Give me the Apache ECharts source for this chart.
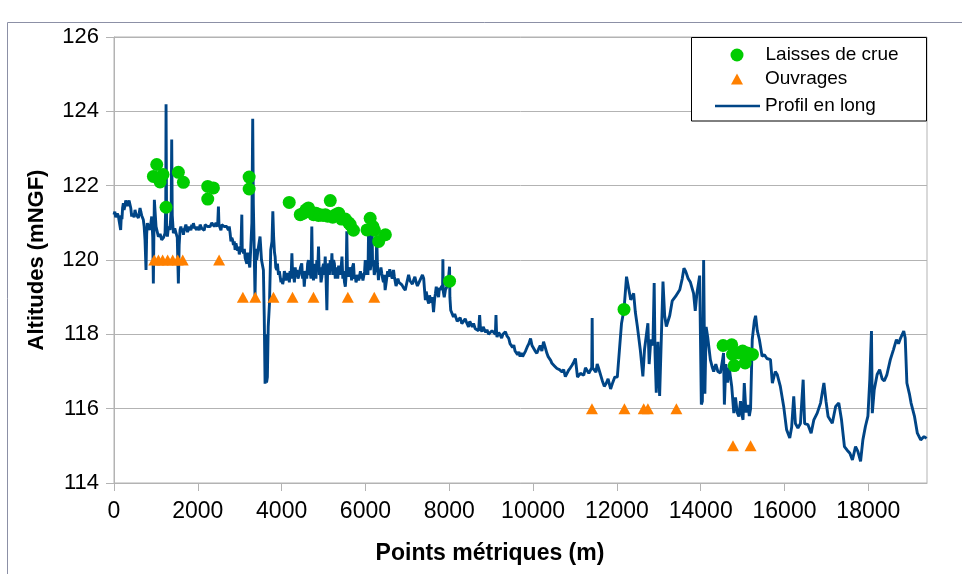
<!DOCTYPE html>
<html>
<head>
<meta charset="utf-8">
<script src="https://cdn.jsdelivr.net/npm/echarts@6/dist/echarts.min.js"></script>
<style>html,body{margin:0;padding:0;background:#fff}#c{width:962px;height:574px}</style>
</head>
<body>
<div id="c"></div>
<script>
// ---- data ----
const xTicks = [0, 2000, 4000, 6000, 8000, 10000, 12000, 14000, 16000, 18000];
const yTicks = [114, 116, 118, 120, 122, 124, 126];

const profileM = [0,20,40,60,80,103,130,159,175,190,205,223,240,260,280,302,320,340,360,382,400,422,440,460,480,501,520,540,560,581,600,621,640,660,680,700,720,740,764,780,796,830,860,900,925,939,950,963,1003,1059,1100,1138,1180,1218,1235,1242,1255,1274,1300,1337,1365,1377,1390,1417,1450,1481,1510,1536,1555,
1576,1596,1616,1636,1656,1676,1695,1715,1735,1755,1775,1795,1815,1835,1855,1875,1895,1915,1935,1955,1974,1994,2014,2034,2054,2074,2094,2114,2134,2154,2174,2194,2213,2233,2253,2273,2293,2313,2333,2353,2373,2393,2413,2433,2452,2472,2492,2505,2532,2552,2572,2592,2612,2632,2650,2670,2691,2710,2730,2750,2771,
2790,2810,2830,2850,2870,2890,2910,2930,2950,2970,2990,3010,3030,3050,3060,3090,3110,3130,3150,3170,3190,3210,3240,3265,3290,3310,3325,3340,3365,3385,3405,3440,3485,3520,3565,3585,3605,3620,3640,3660,3680,3710,3740,3770,3790,
3810,3830,3845,3860,3885,3900,3925,3945,3965,3985,4005,4025,4045,4065,4085,4105,4125,4145,4165,4185,4200,4225,4245,4265,4285,4305,4325,4345,4365,4390,4420,4450,4480,4500,4520,4540,4560,4580,4600,4620,4640,4660,4680,4700,4720,4735,4760,4780,4800,4820,4840,4860,4880,4900,4920,4940,4960,4980,5000,5020,5040,5060,5080,5095,5120,5140,5160,5180,5200,5220,5240,5260,5280,5300,5320,5340,5360,5380,5400,5420,5440,5460,5480,5500,5520,5540,5555,5570,5595,5620,5650,5670,5690,5715,5735,5755,5775,5795,5820,5840,5855,5880,5900,5915,5940,5960,5980,5995,6015,6040,6060,6075,6090,6115,6135,6155,6170,6190,6210,6235,6255,6270,6285,6310,6330,6350,6370,6390,6410,6430,6450,6470,6490,6510,6530,6550,6580,6610,6640,6670,6690,6710,6730,6750,6775,6800,6830,6870,6910,6950,6990,7030,7060,7090,7120,7150,7180,7210,7240,7270,7300,7330,7360,7390,7410,7430,7450,7470,7490,7510,7530,7550,7570,7590,7610,7625,7650,7670,7690,7720,7745,7765,7785,7820,7840,7848,7858,7880,7910,7945,7970,7990,8000,8007,8015,8035,
8100,8130,8160,8190,8220,8260,8300,8340,8380,8420,8460,8490,8520,8550,8580,8620,8660,8700,8725,8745,8780,8810,8840,8870,8900,8940,8980,9020,9060,9100,9115,9130,9140,9180,9217,9250,9280,9310,9340,9380,9420,9450,9480,9510,9540,9570,9600,9630,9660,9690,9720,9750,9780,9820,9860,9900,9940,9975,10013,10050,10090,10130,10170,10210,10250,10290,10330,10360,10390,10420,10450,10480,10510,10540,10570,10600,10630,10660,10690,10730,10770,10810,10850,10890,10930,10970,11010,11030,11060,11090,11130,11170,11210,11250,11290,11330,11370,11400,11410,11420,11460,11500,11530,11560,11605,
11650,11700,11740,11790,11850,11900,11950,12010,12060,12110,12170,12230,12270,12330,12400,12440,12490,12560,12620,12660,12740,12770,12810,12860,12890,12910,12940,12980,13020,13060,13100,13140,13180,13260,13320,13400,13500,13560,13600,13640,13700,13755,13830,13870,13910,13975,14015,14040,14070,14100,14130,14170,14230,14280,14310,14360,14410,14470,14520,14545,14565,14600,14640,14680,14740,14790,14830,14870,14910,14950,14990,15010,15040,15080,15130,15160,15190,15230,15280,15310,15350,15400,15465,15520,15580,15665,15710,15780,15825,15900,15980,16050,16125,16170,16220,16260,16320,16380,16445,16480,16560,16635,16700,16780,16860,16940,16990,17040,17140,17220,17295,17360,17430,17490,17560,17620,17695,17750,17815,17870,17930,17990,18035,18075,18095,18140,18210,18270,18330,18380,18440,18525,18600,18670,18720,18770,18845,18880,18920,18980,19020,19055,19100,19170,19250,19330,19390];
const profileAlt = [121.22,121.3,121.15,121.15,121.25,121.19,121.0,120.81,121.2,121.1,121.4,121.53,121.35,121.45,121.6,121.62,121.45,121.5,121.6,121.58,121.4,121.17,121.25,121.3,121.15,121.35,121.25,121.2,121.3,121.13,121.25,121.4,121.3,121.2,121.15,121.08,120.9,120.54,119.73,120.7,120.99,120.9,120.81,121.17,120.6,119.37,120.5,121.62,120.9,120.63,120.7,120.54,120.6,120.72,121.5,124.19,121.0,120.63,120.9,120.81,121.4,123.24,121.2,120.72,120.85,120.9,120.6,119.37,120.4,
120.81,120.9,120.75,120.85,120.68,120.8,120.85,120.95,120.9,120.75,120.8,120.9,120.86,120.8,120.95,120.85,120.99,120.9,120.85,120.95,120.81,120.9,120.9,120.8,120.95,121.0,120.85,120.9,120.86,120.8,120.95,120.9,120.99,120.9,120.85,120.95,120.9,120.85,121.0,120.95,121.04,120.9,120.9,121.0,120.95,120.9,121.44,120.95,120.9,120.8,120.95,120.9,120.99,120.9,120.85,120.95,120.9,120.85,120.8,120.9,120.72,
120.5,120.6,120.54,120.4,120.5,120.27,120.45,120.4,120.25,120.36,120.15,120.2,120.4,121.22,120.3,120.18,120.3,120.05,120.1,119.9,120.2,120.0,119.8,120.36,121.0,123.8,121.5,120.63,119.0,120.3,120.0,120.3,120.63,120.0,119.73,118.5,116.67,118.0,116.7,116.85,118.2,118.83,120.27,120.5,121.31,
120.6,120.2,120.09,119.8,119.73,119.9,119.6,119.7,119.55,119.4,119.5,119.35,119.46,119.7,119.6,119.45,119.5,119.65,119.55,119.4,119.7,119.5,120.18,119.5,119.6,119.4,119.8,119.55,119.73,119.5,119.6,119.8,119.91,119.5,119.7,119.28,119.6,119.7,119.5,119.9,120.0,119.6,119.7,119.5,120.9,119.8,119.45,119.9,119.73,119.5,120.0,119.7,120.36,119.6,119.8,119.4,119.55,119.8,119.9,119.6,120.09,119.5,118.65,119.6,119.91,119.6,120.0,119.7,120.18,119.6,120.0,119.9,119.5,119.8,119.73,119.5,119.85,119.9,119.6,119.8,120.09,119.5,119.7,119.4,119.28,119.6,120.77,119.7,119.55,119.8,119.7,119.45,119.8,119.91,119.5,119.6,119.4,119.37,119.6,119.45,119.5,119.7,119.5,119.64,119.45,119.5,119.7,120.0,119.6,119.8,119.6,120.81,119.8,119.73,119.9,121.17,119.9,120.0,119.6,119.73,119.9,120.63,119.9,119.46,119.7,119.6,119.8,119.64,119.5,119.4,119.6,119.19,119.35,119.4,119.7,119.55,119.75,119.6,119.5,119.73,119.55,119.5,119.3,119.37,119.5,119.4,119.45,119.33,119.25,119.19,119.4,119.6,119.45,119.5,119.35,119.46,119.55,119.4,119.3,119.28,119.45,119.4,119.6,119.5,119.2,118.92,119.15,119.1,118.9,118.83,119.05,119.0,118.85,119.0,118.8,118.6,118.95,119.1,119.28,119.1,119.0,119.25,119.19,119.3,119.2,120.02,119.15,119.0,119.2,119.28,119.35,119.4,119.3,119.82,119.0,118.65,
118.47,118.55,118.45,118.35,118.38,118.45,118.29,118.35,118.42,118.3,118.2,118.35,118.3,118.2,118.29,118.15,118.2,118.1,118.52,118.15,118.07,118.2,118.15,118.05,118.12,118.0,117.98,118.1,118.07,118.0,118.52,118.0,117.93,118.05,117.98,117.9,118.0,117.95,118.07,117.95,117.89,117.75,117.8,117.65,117.71,117.55,117.6,117.45,117.53,117.4,117.5,117.4,117.44,117.55,117.66,117.75,117.89,117.7,117.66,117.55,117.49,117.6,117.7,117.55,117.8,117.65,117.49,117.4,117.35,117.3,117.22,117.25,117.15,117.2,117.08,117.1,117.05,117.0,116.99,117.05,116.86,116.95,117.04,117.1,117.17,117.25,117.35,117.39,116.85,116.81,116.95,117.0,116.9,117.1,117.08,116.95,117.0,117.1,118.44,117.1,117.05,116.98,117.2,117.1,117.07,
116.76,116.6,116.67,116.8,116.53,116.7,116.85,116.85,117.57,118.29,118.67,119.55,119.5,118.93,119.1,118.6,118.2,117.57,116.87,117.6,118.3,117.2,117.86,117.7,119.38,117.5,116.43,117.8,116.34,116.34,119.42,118.5,118.21,118.5,118.9,119.02,119.2,119.5,119.78,119.7,119.5,119.4,119.1,118.63,119.1,119.58,116.11,116.2,120.0,116.4,118.2,117.9,117.32,117.1,117.0,117.2,117.0,116.96,117.3,117.5,116.11,117.2,116.7,117.1,116.6,115.88,116.3,115.9,115.79,116.2,115.8,115.7,116.69,115.9,116.1,115.8,116.0,117.86,118.36,118.5,118.1,117.86,117.41,117.45,117.35,117.32,116.69,117.0,116.92,116.6,116.06,115.43,115.21,115.5,116.33,115.6,115.48,115.6,116.78,115.6,115.57,115.34,115.7,115.88,116.15,116.69,116.2,115.79,115.61,116.06,116.15,115.7,114.98,114.89,114.8,114.62,114.98,114.85,114.58,115.16,115.52,115.8,116.78,118.09,115.88,116.5,116.92,117.05,116.8,116.75,116.9,117.32,117.59,117.86,117.75,117.9,118.09,117.9,116.69,116.4,116.15,116.1,115.8,115.34,115.16,115.25,115.2];

const laissesM = [940,1020,1100,1170,1090,1242,1536,1656,2237,2373,2237,3225,3225,4181,4444,4521,4580,4640,4700,4763,4820,4880,4922,4990,5042,5100,5161,5220,5290,5360,5430,5520,5600,5639,5715,6037,6113,6180,6213,6316,6476,8007,12170,14534,14740,14760,14800,14900,15000,15060,15110,15235];
const laissesAlt = [122.25,122.57,122.1,122.3,122.2,121.42,122.36,122.09,121.98,121.94,121.64,122.23,121.91,121.55,121.22,121.26,121.35,121.4,121.3,121.22,121.26,121.2,121.22,121.2,121.22,121.18,121.6,121.15,121.22,121.26,121.1,121.1,121.0,120.95,120.8,120.81,121.12,120.9,120.8,120.5,120.68,119.43,118.67,117.7,117.72,117.46,117.16,117.5,117.55,117.23,117.5,117.46];

const ouvragesM = [960,1060,1160,1280,1400,1520,1640,2508,3075,3370,3805,4260,4760,5580,6210,11405,12180,12640,12740,13420,14770,15190];
const ouvragesAlt = [120,120,120,120,120,120,120,120,119,119,119,119,119,119,119,116,116,116,116,116,115,115];

// ---- chart ----
const zip = (a, b) => a.map((v, i) => [v, b[i]]);
const chart = echarts.init(document.getElementById('c'), null, {renderer: 'canvas'});
const FONT = 'Liberation Sans';
const GRID = '#b3b3b3';
const legendText = {fontFamily: FONT, fontSize: 19, color: '#000', lineHeight: 24};
chart.setOption({
  animation: false,
  backgroundColor: '#ffffff',
  textStyle: {fontFamily: FONT},
  grid: {left: 114, right: 35, top: 37, bottom: 91, show: true, borderColor: GRID, borderWidth: 1},
  legend: [
    {
      left: 730.5, top: 43, orient: 'vertical', padding: 0,
      itemWidth: 13, itemHeight: 13, itemGap: 0,
      textStyle: Object.assign({padding: [0, 0, 0, 17]}, legendText),
      data: [{name: 'Laisses de crue', icon: 'circle'}]
    },
    {
      left: 731, top: 67, orient: 'vertical', padding: 0,
      itemWidth: 12, itemHeight: 11, itemGap: 0,
      textStyle: Object.assign({padding: [0, 0, 0, 17]}, legendText),
      data: [{name: 'Ouvrages', icon: 'triangle'}]
    },
    {
      left: 715, top: 94, orient: 'vertical', padding: 0,
      itemWidth: 45, itemHeight: 2.5, itemGap: 0,
      textStyle: legendText,
      data: [{name: 'Profil en long', icon: 'rect'}]
    }
  ],
  xAxis: {
    type: 'value', min: 0, max: 19400,
    name: 'Points métriques (m)', nameLocation: 'middle', nameGap: 59,
    nameTextStyle: {fontFamily: FONT, fontSize: 23, fontWeight: 'bold', color: '#000', padding: [0, 61, 0, 0]},
    axisLine: {show: true, lineStyle: {color: GRID, width: 1}},
    axisTick: {show: true, length: 8, lineStyle: {color: GRID}, customValues: xTicks},
    axisLabel: {fontFamily: FONT, fontSize: 23, color: '#000', margin: 17, customValues: xTicks,
                formatter: v => String(v)},
    splitLine: {show: false}
  },
  yAxis: {
    type: 'value', min: 114, max: 126, interval: 2,
    name: 'Altitudes (mNGF)', nameLocation: 'middle', nameGap: 66, nameRotate: 90,
    nameTextStyle: {fontFamily: FONT, fontSize: 22, fontWeight: 'bold', color: '#000'},
    axisLine: {show: true, lineStyle: {color: GRID, width: 1}},
    axisTick: {show: true, length: 8, lineStyle: {color: GRID}},
    axisLabel: {fontFamily: FONT, fontSize: 22, color: '#000', margin: 15, formatter: v => String(v)},
    splitLine: {show: true, lineStyle: {color: GRID, width: 1}}
  },
  graphic: [
    {type: 'polyline', silent: true, z: 1, shape: {points: [[7.5, 574], [7.5, 22.5], [962, 22.5]]},
     style: {stroke: '#8c90a6', lineWidth: 1, fill: null}},
    {type: 'rect', silent: true, z: 3, shape: {x: 691.5, y: 37.5, width: 235, height: 83.5},
     style: {stroke: '#000', lineWidth: 1, fill: '#fff'}}
  ],
  series: [
    {name: 'Laisses de crue', type: 'scatter', symbol: 'circle', symbolSize: 13, z: 4,
     itemStyle: {color: '#00cc00', opacity: 1}, data: zip(laissesM, laissesAlt)},
    {name: 'Ouvrages', type: 'scatter', symbol: 'triangle', symbolSize: [12, 11], z: 4,
     itemStyle: {color: '#ff8000', opacity: 1}, data: zip(ouvragesM, ouvragesAlt)},
    {name: 'Profil en long', type: 'line', showSymbol: false, symbol: 'none', z: 3,
     lineStyle: {color: '#004586', width: 2.9}, itemStyle: {color: '#004586'},
     data: zip(profileM, profileAlt)}
  ]
});
</script>
</body>
</html>
